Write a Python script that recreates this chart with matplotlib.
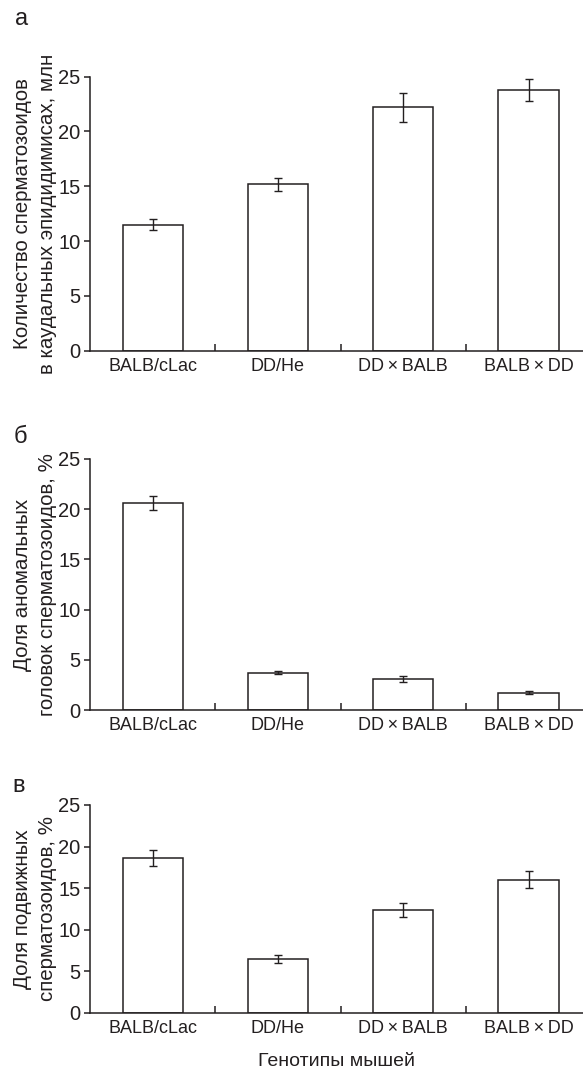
import matplotlib
matplotlib.use("Agg")
import matplotlib.pyplot as plt
import numpy as np

plt.rcParams['font.family'] = ['Liberation Sans', 'DejaVu Sans']

categories = ["BALB/cLac", "DD/He", "DD\u2009×\u2009BALB", "BALB\u2009×\u2009DD"]

count_vals = [11.5, 15.2, 22.2, 23.8]
count_err = [0.5, 0.6, 1.3, 1.0]

abnormal_vals = [20.6, 3.7, 3.1, 1.7]
abnormal_err = [0.7, 0.15, 0.3, 0.15]

motile_vals = [18.6, 6.5, 12.4, 16.0]
motile_err = [1.0, 0.5, 0.85, 1.0]

yticks = [0, 5, 10, 15, 20, 25]
panel_letters = ["а", "б", "в"]
ylabels = ["Количество сперматозоидов\nв каудальных эпидидимисах, млн",
           "Доля аномальных\nголовок сперматозоидов, %",
           "Доля подвижных\nсперматозоидов, %"]
xlabel = "Генотипы мышей"

W, H = 583, 1071
fig = plt.figure(figsize=(W / 100, H / 100), dpi=100)

ink = '#231f20'
# (top_px, bottom_px) for each panel
panels = [(76.7, 350.7), (459, 710), (805, 1012.7)]
left_px = 90
right_px = 583
letter_pos = [(22, 19), (20, 437), (19, 786)]
data = [(count_vals, count_err), (abnormal_vals, abnormal_err), (motile_vals, motile_err)]

x = np.arange(len(categories))
for i, ((top, bot), (vals, errs)) in enumerate(zip(panels, data)):
    ax = fig.add_axes([left_px / W, 1 - bot / H, (right_px - left_px) / W, (bot - top) / H])
    ax.bar(x, vals, width=0.48, color='white', edgecolor=ink, linewidth=1.1, zorder=2)
    ax.errorbar(x, vals, yerr=errs, fmt='none', ecolor=ink, elinewidth=1.0,
                capsize=2.6, capthick=1.0, zorder=3)
    ax.set_xlim(-0.5, 3.435)
    ax.set_ylim(0, 25)
    ax.set_yticks(yticks)
    ax.set_xticks(x)
    ax.set_xticklabels(categories)
    ax.set_xticks([0.5, 1.5, 2.5], minor=True)
    ax.tick_params(axis='x', which='major', length=0, pad=5, labelsize=13, colors=ink)
    ax.tick_params(axis='x', which='minor', length=5, width=1.1, direction='in', color=ink)
    ax.tick_params(axis='y', which='major', length=4, width=1.1, direction='out', pad=3,
                   labelsize=14.5, colors=ink)
    for s in ['top', 'right']:
        ax.spines[s].set_visible(False)
    for s in ['left', 'bottom']:
        ax.spines[s].set_color(ink)
        ax.spines[s].set_linewidth(1.1)
    yc = (top + bot) / 2
    fig.text(35.5 / W, 1 - yc / H, ylabels[i], rotation=90, ha='center', va='center',
             multialignment='center', fontsize=14.8, color=ink, linespacing=1.4)
    lx, ly = letter_pos[i]
    fig.text(lx / W, 1 - ly / H, panel_letters[i], ha='center', va='center',
             fontsize=17, color=ink)

fig.text((left_px + (right_px - left_px) / 2) / W, 1 - 1061 / H, xlabel,
         ha='center', va='center', fontsize=14, color=ink)

fig.savefig("out.png", dpi=100)
